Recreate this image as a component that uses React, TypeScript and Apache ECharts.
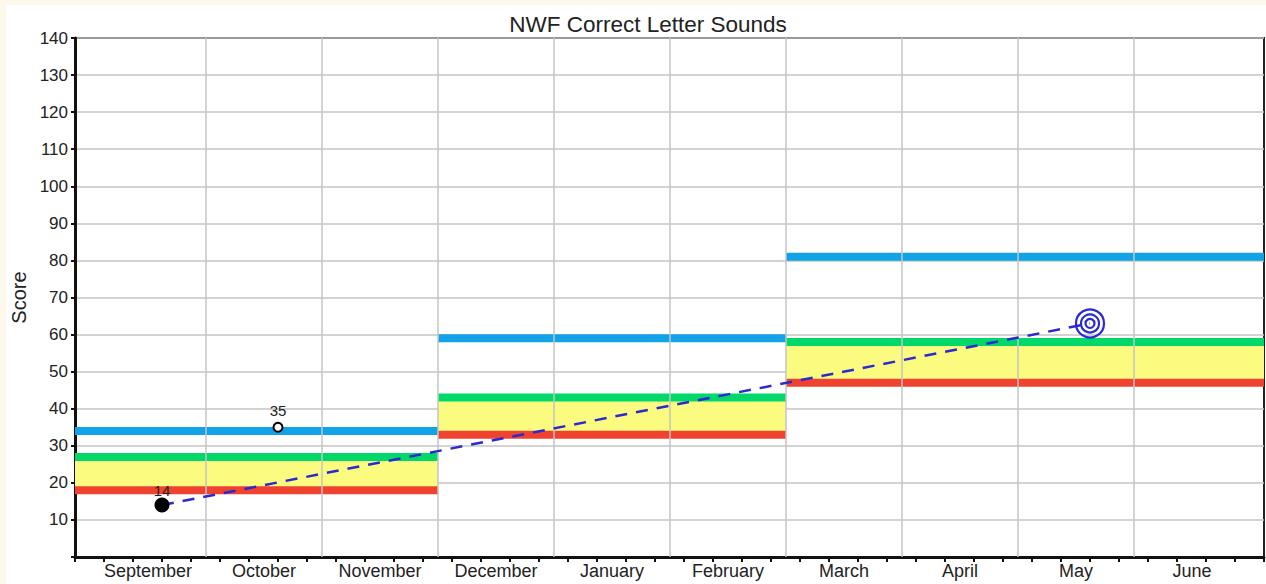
import React, { useEffect, useRef } from "react";
import * as echarts from "echarts";

// ---- data ----
const months = ["September", "October", "November", "December", "January", "February", "March", "April", "May", "June"];
// x axis is in weeks from the start of the axis
const monthCenters = [2.52, 6.52, 10.52, 14.52, 18.52, 22.52, 26.52, 30.52, 34.52, 38.52];
const monthBoundaries = [4.52, 8.52, 12.52, 16.52, 20.52, 24.52, 28.52, 32.52, 36.52];
const periodStarts = [0, 12.52, 24.52];
const periodEnds = [12.52, 24.52, 41];
const blueLevels = [34, 59, 81];
const greenLevels = [27, 43, 58];
const redLevels = [18, 33, 47];
const scorePoints: [number, number][] = [[3, 14]];
const openPoints: [number, number][] = [[7, 35]];
const goalPoint: [number, number] = [35, 63];
const aimStart: [number, number] = [3, 14];
const yTicks = [0, 10, 20, 30, 40, 50, 60, 70, 80, 90, 100, 110, 120, 130, 140];

const FONT = "'Liberation Sans', Arial, sans-serif";
const GRID = "#c4c4c4";
const BLUE = "#12a2e6";
const GREEN = "#00d96a";
const RED = "#f0432f";
const YELLOW = "#fbfb80";
const AIM = "#2a2ad0";

export default function App() {
  const ref = useRef<HTMLDivElement>(null);
  useEffect(() => {
    if (!ref.current) return;
    const chart = echarts.init(ref.current, undefined, { renderer: "svg" });

    const bandSeries: any[] = [];
    periodStarts.forEach((s, i) => {
      const e = periodEnds[i];
      bandSeries.push({
        type: "line",
        silent: true,
        symbol: "none",
        data: [[s, redLevels[i]], [e, redLevels[i]]],
        lineStyle: { width: 0, opacity: 0 },
        markArea: {
          silent: true,
          itemStyle: { color: YELLOW },
          data: [[{ coord: [s, redLevels[i]] }, { coord: [e, greenLevels[i]] }]],
        },
        z: 1,
      });
      [
        [blueLevels[i], BLUE],
        [greenLevels[i], GREEN],
        [redLevels[i], RED],
      ].forEach(([v, c]) => {
        bandSeries.push({
          type: "line",
          silent: true,
          symbol: "none",
          data: [[s, v], [e, v]],
          lineStyle: { width: 8, color: c as string, cap: "butt" },
          z: 2,
        });
      });
    });

    chart.setOption({
      animation: false,
      backgroundColor: "#ffffff",
      textStyle: { fontFamily: FONT },
      graphic: [
        {
          type: "text",
          x: 642,
          y: 19,
          style: {
            text: "NWF Correct Letter Sounds",
            textAlign: "center",
            textVerticalAlign: "middle",
            fontSize: 22.5,
            fontFamily: FONT,
            fill: "#222",
          },
        },
      ],
      grid: {
        left: 69,
        right: 2,
        top: 33,
        bottom: 27,
        containLabel: false,
        outerBoundsMode: "none",
        show: true,
        borderColor: "#222",
        borderWidth: 2,
        backgroundColor: "transparent",
      },
      xAxis: {
        type: "value",
        min: 0,
        max: 41,
        interval: 1,
        axisLine: { show: true, lineStyle: { color: "#111", width: 3 } },
        axisTick: { show: true, length: 5, lineStyle: { color: "#111", width: 2 } },
        splitLine: { show: false },
        axisLabel: {
          customValues: monthCenters,
          formatter: (v: number) => {
            const idx = monthCenters.findIndex((m) => Math.abs(m - v) < 0.01);
            return idx >= 0 ? months[idx] : "";
          },
          fontSize: 18,
          color: "#222",
          fontFamily: FONT,
          margin: 5,
        },
      },
      yAxis: {
        type: "value",
        min: 0,
        max: 140,
        interval: 10,
        name: "Score",
        nameLocation: "middle",
        nameRotate: 90,
        nameGap: 44,
        nameTextStyle: { fontSize: 20, color: "#222", fontFamily: FONT },
        axisLine: { show: true, lineStyle: { color: "#111", width: 3 } },
        axisTick: { show: true, length: 4, lineStyle: { color: "#111", width: 2 } },
        splitLine: { show: true, lineStyle: { color: GRID, width: 1.5 } },
        axisLabel: {
          formatter: (v: number) => (v === yTicks[0] ? "" : String(v)),
          fontSize: 17,
          color: "#222",
          fontFamily: FONT,
          margin: 7,
        },
      },
      series: [
        {
          type: "line",
          silent: true,
          symbol: "none",
          data: [],
          markLine: {
            silent: true,
            symbol: "none",
            label: { show: false },
            lineStyle: { color: GRID, width: 1.5, type: "solid" },
            data: monthBoundaries.map((b) => ({ xAxis: b })),
          },
          z: 0,
        },
        ...bandSeries,
        {
          type: "line",
          silent: true,
          symbol: "none",
          data: [aimStart, goalPoint],
          lineStyle: { color: AIM, width: 2.5, type: [12, 9] },
          z: 5,
        },
        {
          type: "scatter",
          data: scorePoints,
          symbol: "circle",
          symbolSize: 15,
          itemStyle: { color: "#000", opacity: 1 },
          label: { show: true, position: "top", distance: 0, fontSize: 15, color: "#222", formatter: (p: any) => String(p.value[1]) },
          z: 6,
        },
        {
          type: "scatter",
          data: openPoints,
          symbol: "circle",
          symbolSize: 9,
          itemStyle: { color: "#fff", borderColor: "#000", borderWidth: 2, opacity: 1 },
          label: { show: true, position: "top", distance: 4, fontSize: 15, color: "#222", formatter: (p: any) => String(p.value[1]) },
          z: 6,
        },
        ...[28, 18, 9].map((sz) => ({
          type: "scatter",
          data: [goalPoint],
          symbol: "circle",
          symbolSize: sz,
          itemStyle: { color: "rgba(0,0,0,0)", borderColor: AIM, borderWidth: 2.2, opacity: 1 },
          z: 7,
        })),
      ],
    });
    return () => chart.dispose();
  }, []);

  return (
    <div style={{ position: "fixed", left: 0, top: 0, width: 1266, height: 584, background: "#fdf8ec" }}>
      <div ref={ref} style={{ position: "absolute", left: 6, top: 5, width: 1260, height: 579, background: "#fff" }} />
    </div>
  );
}
